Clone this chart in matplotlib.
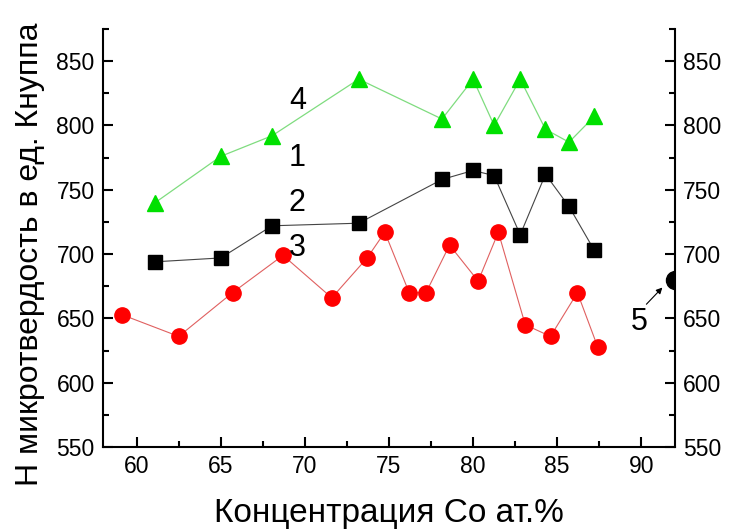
import matplotlib
matplotlib.use("Agg")
from matplotlib import pyplot as plt
from matplotlib.ticker import MultipleLocator

plt.rcParams["font.family"] = ["Liberation Sans", "DejaVu Sans"]

# curve 1 (black squares)
co_1 = [61.1, 65.0, 68.05, 73.2, 78.15, 80.0, 81.25, 82.8, 84.3, 85.7, 87.2]
hv_1 = [694, 697, 722, 724, 758, 765, 761, 715, 762, 737, 703]

# curve 3 (red circles)
co_3 = [59.1, 62.5, 65.7, 68.7, 71.6, 73.7, 74.75, 76.2, 77.2, 78.6, 80.3,
        81.5, 83.1, 84.6, 86.2, 87.4]
hv_3 = [653, 636, 670, 699, 666, 697, 717, 670, 670, 707, 679,
        717, 645, 636, 670, 628]

# curve 4 (green triangles)
co_4 = [61.1, 65.0, 68.05, 73.2, 78.15, 80.0, 81.25, 82.8, 84.3, 85.7, 87.2]
hv_4 = [740, 776, 792, 836, 805, 836, 800, 836, 797, 787, 807]

# point 5
co_5 = [92.0]
hv_5 = [680]

curve_labels = ["4", "1", "2", "3"]
curve_label_y = [819, 775, 740, 705]

fig = plt.figure(figsize=(7.29, 5.31), dpi=100)
ax = fig.add_axes([103 / 729, 1 - 447 / 531, 572 / 729, 418 / 531])

ax.plot(co_4, hv_4, color="#7fdc7f", lw=0.9, marker="^", ms=12,
        mfc="#00e000", mec="#00e000", zorder=3)
ax.plot(co_1, hv_1, color="#444444", lw=0.8, marker="s", ms=9.5,
        mfc="black", mec="black", zorder=3)
ax.plot(co_3, hv_3, color="#e06060", lw=0.8, marker="o", ms=11,
        mfc="#ff0000", mec="#ff0000", zorder=3)
ax.plot(co_5, hv_5, "o", color="black", ms=13, zorder=4)

for lab, yy in zip(curve_labels, curve_label_y):
    ax.text(69.55, yy, lab, fontsize=22, ha="center", va="center")

# label 5 with a small arrow pointing at the point on the right axis
ax.text(89.9, 647, "5", fontsize=22, ha="center", va="center")
ax.annotate("", xy=(91.25, 674), xytext=(90.3, 661),
            arrowprops=dict(arrowstyle="-|>", color="black", lw=0.8,
                            mutation_scale=9, shrinkA=0, shrinkB=0))

ax.set_xlim(58, 92)
ax.set_ylim(550, 875)
ax.xaxis.set_major_locator(MultipleLocator(5))
ax.xaxis.set_minor_locator(MultipleLocator(2.5))
ax.yaxis.set_major_locator(MultipleLocator(50))
ax.yaxis.set_minor_locator(MultipleLocator(25))

ax.spines["top"].set_visible(False)
for s in ["left", "right", "bottom"]:
    ax.spines[s].set_linewidth(1.5)

ax.tick_params(which="both", direction="in", right=True, labelright=True,
               top=False, width=1.5, labelsize=16.5)
ax.tick_params(which="major", length=7, pad=6)
ax.tick_params(which="minor", length=4)

ax.set_xlabel("Концентрация Co ат.%", fontsize=24, labelpad=14)
ax.set_ylabel("Н микротвердость в ед. Кнуппа", fontsize=23, labelpad=6)
ax.yaxis.set_label_coords(-0.102, 0.46)

fig.savefig("out.png", dpi=100)
